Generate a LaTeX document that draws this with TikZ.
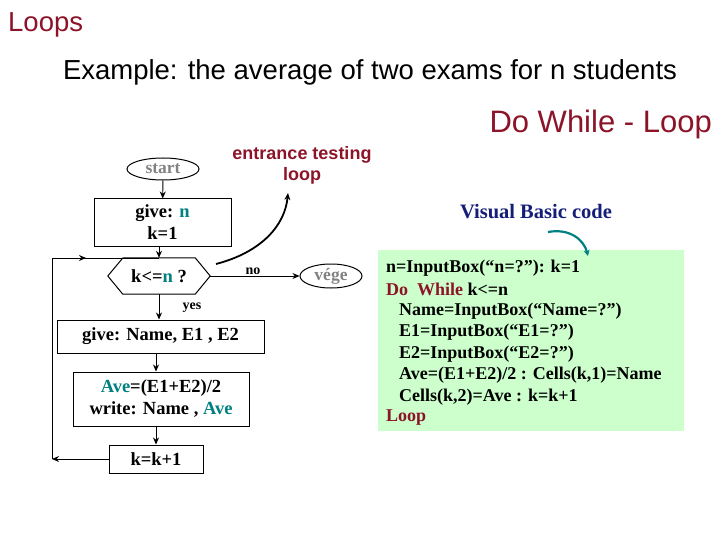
\documentclass[tikz,border=0pt]{standalone}
\usepackage{fontspec}
\setmainfont{Liberation Serif}
\setsansfont{Liberation Sans}
\usetikzlibrary{shapes.geometric,arrows.meta}
\definecolor{dred}{RGB}{140,20,40}
\definecolor{tealc}{RGB}{0,128,128}
\definecolor{dblue}{RGB}{20,30,120}
\definecolor{codebg}{RGB}{204,255,204}
\definecolor{grayt}{RGB}{130,130,130}
\tikzset{
 box/.style={draw,line width=1pt,font=\bfseries\fontsize{18.5}{22}\selectfont,align=center,inner sep=0pt},
 oval/.style={draw,line width=1pt,ellipse,inner sep=0pt,text=grayt,font=\bfseries\fontsize{17.5}{20}\selectfont},
 arr/.style={-{Stealth[length=7pt,width=6pt]},line width=0.9pt},
 lbl/.style={font=\bfseries\fontsize{14}{16}\selectfont},
 code/.style={anchor=west,font=\bfseries\fontsize{18}{20}\selectfont,inner sep=0pt}
}
\begin{document}
\begin{tikzpicture}[x=1pt,y=-1pt]
\useasboundingbox (0,0) rectangle (720,540);
\node[anchor=west,text=dred,font=\sffamily\fontsize{27.5}{30}\selectfont,inner sep=0pt] (title) at (8,25) {Loops};
\node[font=\sffamily\fontsize{27.5}{30}\selectfont] (sub) at (370,72) {Example: the average of two exams for n students};
\node[anchor=east,text=dred,font=\sffamily\fontsize{31}{34}\selectfont,inner sep=0pt] (dw) at (712,124) {Do While - Loop};
\node[oval,minimum width=72pt,minimum height=22pt] (start) at (163,169) {start};
\node[text=dred,align=center,font=\sffamily\bfseries\fontsize{18}{21}\selectfont] (ent) at (302,165) {entrance testing\\loop};
\node[box,minimum width=137pt,minimum height=47pt] (give) at (162.5,222.5) {give: \textcolor{tealc}{n}\\k=1};
\node[font=\bfseries\fontsize{18.5}{22}\selectfont,inner sep=0pt,minimum width=102pt,minimum height=36pt] (dec) at (159,276) {k<=\textcolor{tealc}{n} ?};
\draw[line width=1pt] (dec.west) -- ++(15,-18) -- ([xshift=-15]dec.north east) -- (dec.east) -- ([xshift=-15]dec.south east) -- ([xshift=15]dec.south west) -- cycle;
\node[oval,minimum width=62pt,minimum height=24pt] (vege) at (331,276) {vége};
\node[box,minimum width=207pt,minimum height=33pt] (gn) at (160.5,336.5) {give: Name, E1 , E2};
\node[box,minimum width=176pt,minimum height=54pt] (ave) at (161,399) {\textcolor{tealc}{Ave}=(E1+E2)/2\\write: Name , \textcolor{tealc}{Ave}};
\node[box,minimum width=94pt,minimum height=28pt] (kk) at (156,459) {k=k+1};
\node[lbl] (no) at (253,271) {no};
\node[lbl] (yes) at (192,308) {yes};
\coordinate (bl) at (52,459);
\coordinate (tl) at (52,258);
\coordinate (tj) at (159,258);
\draw[arr] (start) -- (give);
\draw[arr] (give.south -| dec.north) -- (dec.north);
\draw[arr] (dec.east) -- (vege.west);
\draw[arr] (dec.south) -- (gn.north -| dec.south);
\draw[arr] (gn.south -| kk.north) -- (ave.north -| kk.north);
\draw[arr] (ave.south -| kk.north) -- (kk.north);
\draw[arr] (kk.west) -- (bl);
\draw[line width=0.9pt] (bl) -- (tl) -- (tj);
\draw[arr] (tl) -- (86,258);
\coordinate (c1) at (216,264);
\coordinate (c2) at (288,193);
\draw[arr,line width=1.8pt] (c1) .. controls (262,252) and (285,225) .. (c2);
\node[text=dblue,font=\bfseries\fontsize{20.5}{23}\selectfont] (vb) at (536,212) {Visual Basic code};
\node[draw=none,fill=codebg,minimum width=306pt,minimum height=181pt,inner sep=0pt] (cb) at (531,340.5) {};
\coordinate (t1) at (548,232);
\coordinate (t2) at (588,256);
\draw[tealc,line width=2.2pt,-{Stealth[length=6pt,width=6pt]}] (t1) .. controls (570,228) and (584,240) .. (t2);
\node[code] (l1) at (386,268) {n=InputBox(“n=?”): k=1};
\node[code] (l2) at (386,289.5) {\textcolor{dred}{Do\ \ While} k<=n};
\node[code] (l3) at (399,311) {Name=InputBox(“Name=?”)};
\node[code] (l4) at (399,332.5) {E1=InputBox(“E1=?”)};
\node[code] (l5) at (399,354) {E2=InputBox(“E2=?”)};
\node[code] (l6) at (399,375.5) {Ave=(E1+E2)/2 : Cells(k,1)=Name};
\node[code] (l7) at (399,397) {Cells(k,2)=Ave : k=k+1};
\node[code,text=dred] (l8) at (386,418) {Loop};
\end{tikzpicture}
\end{document}
